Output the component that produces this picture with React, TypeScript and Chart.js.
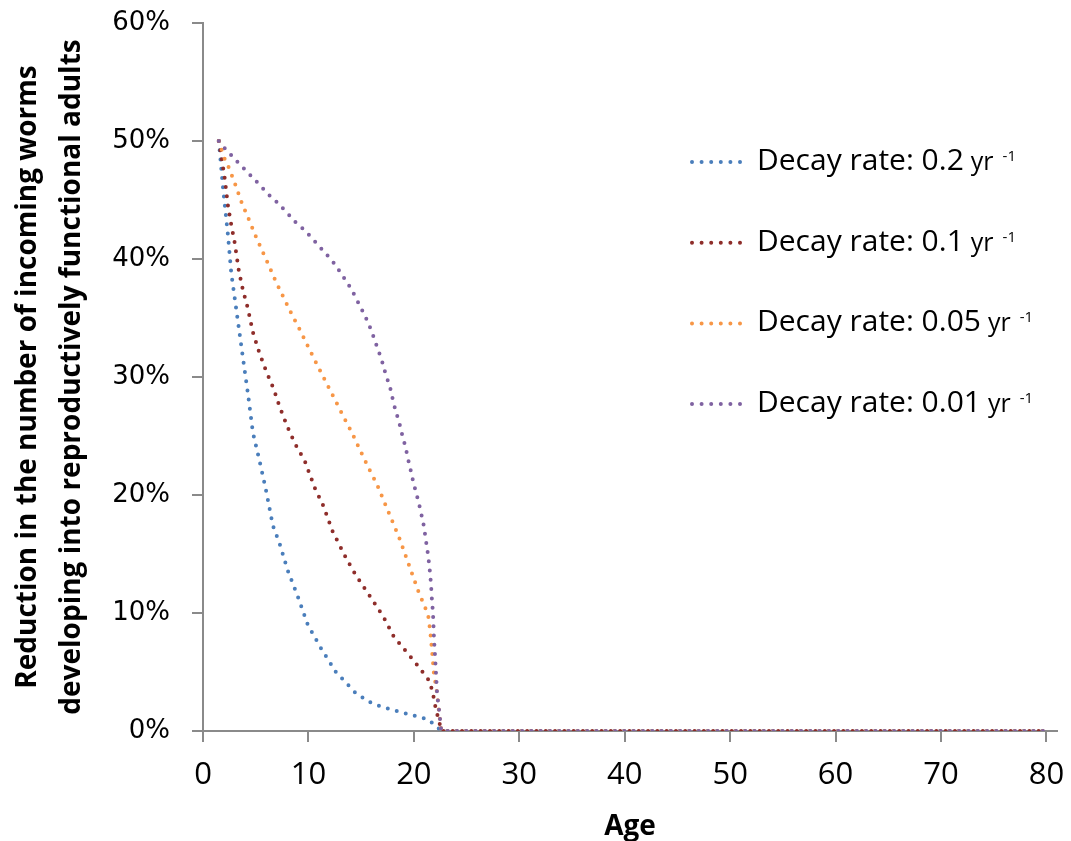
import React, { useEffect, useRef } from "react";
import { Chart, registerables } from "chart.js";

Chart.register(...registerables);

// ---- data ----
const decayLabels = ["0.2", "0.1", "0.05", "0.01"];
const seriesColors = ["#4A7EBB", "#8E2D2A", "#F79646", "#7F62A1"];

const blueAges = [1.5, 1.9, 2.37, 2.68, 3.16, 3.79, 4.26, 4.73, 5.36, 5.93, 6.63, 7.26, 8.04, 8.99, 9.94, 11.2, 12.6, 14.5, 16.1, 17.9, 19.6, 21.3, 22.0, 22.6, 80];
const blueValues = [50, 46.0, 42.0, 38.8, 35.7, 31.6, 28.6, 25.3, 22.9, 20.6, 17.4, 15.9, 13.6, 11.4, 9.0, 7.0, 5.0, 3.2, 2.3, 1.8, 1.4, 1.0, 0.5, 0, 0];

const redAges = [1.5, 2.05, 2.37, 2.68, 3.0, 3.4, 3.8, 4.26, 4.73, 5.36, 5.99, 6.7, 7.26, 8.0, 8.7, 9.65, 10.6, 11.4, 12.3, 13.6, 14.5, 16.0, 17.1, 18.1, 19.3, 20.4, 21.5, 21.8, 22.1, 22.4, 22.6, 80];
const redValues = [50, 46.9, 44.5, 42.9, 41.4, 39.0, 37.3, 35.8, 33.8, 32.0, 30.5, 29.0, 27.5, 25.8, 24.4, 22.9, 20.6, 19.1, 16.9, 14.6, 13.2, 11.2, 9.7, 8.0, 6.7, 5.5, 4.2, 3.2, 1.8, 0.8, 0, 0];

const orangeAges = [1.5, 2.05, 2.47, 3.07, 3.7, 4.37, 5.06, 6.17, 6.9, 7.66, 8.48, 9.3, 10.06, 10.9, 11.7, 12.5, 13.35, 14.17, 14.9, 15.7, 16.5, 17.2, 17.9, 18.6, 19.2, 19.8, 20.4, 21.1, 21.4, 21.6, 21.75, 21.9, 22.2, 22.4, 22.6, 80];
const orangeValues = [50, 48.5, 47.7, 46.3, 44.7, 43.3, 41.8, 39.6, 38.1, 36.7, 35.2, 33.8, 32.4, 30.9, 29.5, 28.1, 26.6, 25.2, 23.8, 22.3, 20.9, 19.4, 17.9, 16.4, 14.9, 13.4, 11.9, 10.4, 9.6, 8.0, 6.5, 4.9, 3.2, 1.5, 0, 0];

const purpleAges = [1.5, 2.05, 2.68, 3.3, 4.5, 5.14, 6.3, 7.04, 7.67, 8.3, 8.9, 9.56, 10.2, 10.8, 11.4, 12.0, 12.56, 13.07, 13.6, 14.1, 14.5, 14.9, 15.3, 15.66, 15.98, 16.3, 16.6, 16.9, 17.15, 17.4, 17.7, 17.9, 18.1, 18.35, 18.6, 18.8, 19.05, 19.27, 19.46, 19.65, 19.84, 20.06, 20.3, 20.5, 20.7, 20.9, 21.04, 21.17, 21.3, 21.4, 21.5, 21.58, 21.65, 21.7, 21.77, 21.84, 21.9, 22.0, 22.1, 22.2, 22.4, 22.6, 80];
const purpleValues = [50, 49.4, 48.8, 48.2, 47.1, 46.5, 45.4, 44.8, 44.2, 43.6, 43.0, 42.5, 41.9, 41.3, 40.7, 40.1, 39.5, 38.8, 38.1, 37.4, 36.7, 36.0, 35.3, 34.6, 33.9, 33.1, 32.3, 31.6, 30.8, 30.0, 29.3, 28.5, 27.7, 26.9, 26.2, 25.4, 24.6, 23.8, 23.0, 22.3, 21.5, 20.7, 19.9, 19.2, 18.4, 17.6, 16.8, 16.0, 15.2, 14.5, 13.7, 12.9, 12.1, 11.3, 10.5, 9.5, 8.0, 6.5, 4.9, 3.2, 1.7, 0, 0];

const xTickValues = [0, 10, 20, 30, 40, 50, 60, 70, 80];
const yTickValues = [0, 10, 20, 30, 40, 50, 60];
const xTitle = "Age";
const yTitleLines = [
  "Reduction in the number of incoming worms",
  "developing into reproductively functional adults",
];

const seriesAges = [blueAges, redAges, orangeAges, purpleAges];
const seriesValues = [blueValues, redValues, orangeValues, purpleValues];

const AXIS_COLOR = "#8A8A8A";

const legendPlugin = {
  id: "decayLegend",
  afterDraw(chart: any) {
    const ctx = chart.ctx as CanvasRenderingContext2D;
    ctx.save();
    decayLabels.forEach((lab, i) => {
      const y = 162 + i * 80.7;
      ctx.strokeStyle = seriesColors[i];
      ctx.lineWidth = 4;
      ctx.lineCap = "round";
      ctx.setLineDash([0, 9.6]);
      ctx.beginPath();
      ctx.moveTo(692, y);
      ctx.lineTo(741, y);
      ctx.stroke();
      ctx.setLineDash([]);
      ctx.fillStyle = "#000";
      ctx.textAlign = "left";
      ctx.textBaseline = "alphabetic";
      const main = "Decay rate: " + lab;
      let x = 757;
      ctx.font = "30px 'Open Sans'";
      ctx.fillText(main, x, y + 8);
      x += ctx.measureText(main).width + 7;
      ctx.font = "25px 'Open Sans'";
      ctx.fillText("yr", x, y + 8);
      x += ctx.measureText("yr").width + 9;
      ctx.font = "15px 'Open Sans'";
      ctx.fillText("-1", x, y - 1);
    });
    ctx.restore();
  },
};

export default function App() {
  const canvasRef = useRef<HTMLCanvasElement | null>(null);

  useEffect(() => {
    if (!canvasRef.current) return;
    const datasets = seriesAges.map((ages, i) => ({
      label: "Decay rate: " + decayLabels[i] + " yr -1",
      data: ages.map((a, j) => ({ x: a, y: seriesValues[i][j] })),
      borderColor: seriesColors[i],
      backgroundColor: seriesColors[i],
      borderWidth: 4,
      borderDash: [0, 9.3],
      borderCapStyle: "round" as const,
      pointRadius: 0,
      tension: 0,
      fill: false,
      order: 4 - i,
    }));

    const chart = new Chart(canvasRef.current, {
      type: "line",
      data: { datasets },
      plugins: [legendPlugin],
      options: {
        animation: false,
        responsive: true,
        maintainAspectRatio: false,
        layout: { padding: { left: 0, top: 23, right: 14, bottom: 0 } },
        plugins: {
          legend: { display: false },
          tooltip: { enabled: false },
          title: { display: false },
        },
        scales: {
          x: {
            type: "linear",
            min: 0,
            max: 81,
            afterBuildTicks: (s: any) => {
              s.ticks = xTickValues.map((v) => ({ value: v }));
            },
            afterFit: (s: any) => {
              s.height = 110;
              s.paddingLeft = 0;
              s.paddingRight = 0;
            },
            grid: {
              drawOnChartArea: false,
              drawTicks: true,
              tickLength: 11,
              color: AXIS_COLOR,
              lineWidth: 2,
            },
            border: { display: true, color: AXIS_COLOR, width: 2 },
            ticks: {
              color: "#000",
              padding: 15,
              maxRotation: 0,
              autoSkip: false,
              font: { family: "'Open Sans'", size: 31 },
            },
            title: {
              display: true,
              text: xTitle,
              color: "#000",
              font: { family: "'Open Sans'", size: 28, weight: "bold", lineHeight: 1.0 },
              padding: { top: 0, bottom: 0 },
            },
          },
          y: {
            type: "linear",
            min: 0,
            max: 60,
            afterBuildTicks: (s: any) => {
              s.ticks = yTickValues.map((v) => ({ value: v }));
            },
            afterFit: (s: any) => {
              s.width = 203;
              s.paddingTop = 0;
              s.paddingBottom = 0;
            },
            grid: {
              drawOnChartArea: false,
              drawTicks: true,
              tickLength: 11,
              color: AXIS_COLOR,
              lineWidth: 2,
            },
            border: { display: true, color: AXIS_COLOR, width: 2 },
            ticks: {
              color: "#000",
              padding: 22,
              autoSkip: false,
              font: { family: "'DejaVu Sans'", size: 26 },
              callback: (v: any) => v + "%",
            },
            title: {
              display: true,
              text: yTitleLines,
              color: "#000",
              font: { family: "'Open Sans'", size: 28, weight: "bold", lineHeight: 1.57 },
              padding: { top: 6, bottom: 0 },
            },
          },
        },
      },
    });
    return () => chart.destroy();
  }, []);

  return (
    <div style={{ position: "fixed", left: 0, top: 0, width: 1071, height: 841, background: "#fff" }}>
      <canvas ref={canvasRef} />
    </div>
  );
}
